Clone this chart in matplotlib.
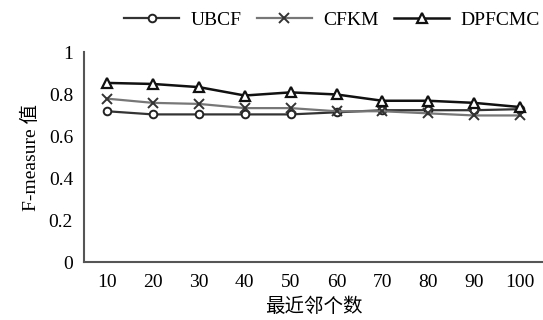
import matplotlib.pyplot as plt

plt.rcParams['font.family'] = ['Liberation Serif', 'Noto Sans CJK SC']

neighbors = ['10', '20', '30', '40', '50', '60', '70', '80', '90', '100']
ubcf = [0.72, 0.705, 0.705, 0.705, 0.705, 0.715, 0.725, 0.725, 0.725, 0.73]
cfkm = [0.78, 0.76, 0.755, 0.735, 0.735, 0.72, 0.72, 0.71, 0.70, 0.70]
dpfcmc = [0.855, 0.85, 0.835, 0.795, 0.81, 0.80, 0.77, 0.77, 0.76, 0.74]

fig = plt.figure(figsize=(5.43, 3.2), dpi=100)
ax = fig.add_axes([0.155, 0.18, 0.845, 0.656])

x = range(len(neighbors))
ax.plot(x, ubcf, color='#333333', lw=1.6, marker='o', ms=5.5, mfc='white',
        mec='#222222', mew=1.4, label='UBCF')
ax.plot(x, cfkm, color='#777777', lw=1.6, marker='x', ms=6.5,
        mec='#333333', mew=1.4, label='CFKM')
ax.plot(x, dpfcmc, color='#111111', lw=1.8, marker='^', ms=6.5, mfc='white',
        mec='#111111', mew=1.6, label='DPFCMC')

ax.set_xlim(-0.5, 9.5)
ax.set_ylim(0, 1)
ax.set_xticks(list(x))
ax.set_xticklabels(neighbors)
ax.set_yticks([0, 0.2, 0.4, 0.6, 0.8, 1])
ax.set_yticklabels(['0', '0.2', '0.4', '0.6', '0.8', '1'])
ax.tick_params(length=0, labelsize=14, pad=8)
for s in ['top', 'right']:
    ax.spines[s].set_visible(False)
for s in ['left', 'bottom']:
    ax.spines[s].set_color('#555555')
    ax.spines[s].set_linewidth(1.5)

ax.set_xlabel('最近邻个数', fontsize=14, labelpad=5)
ax.set_ylabel('F-measure 值', fontsize=14, labelpad=6)

ax.legend(loc='lower right', bbox_to_anchor=(1.01, 1.075), ncol=3, frameon=False,
          fontsize=14, handlelength=2.8, columnspacing=0.8, handletextpad=0.6,
          borderaxespad=0)

fig.savefig('out.png', dpi=100)
